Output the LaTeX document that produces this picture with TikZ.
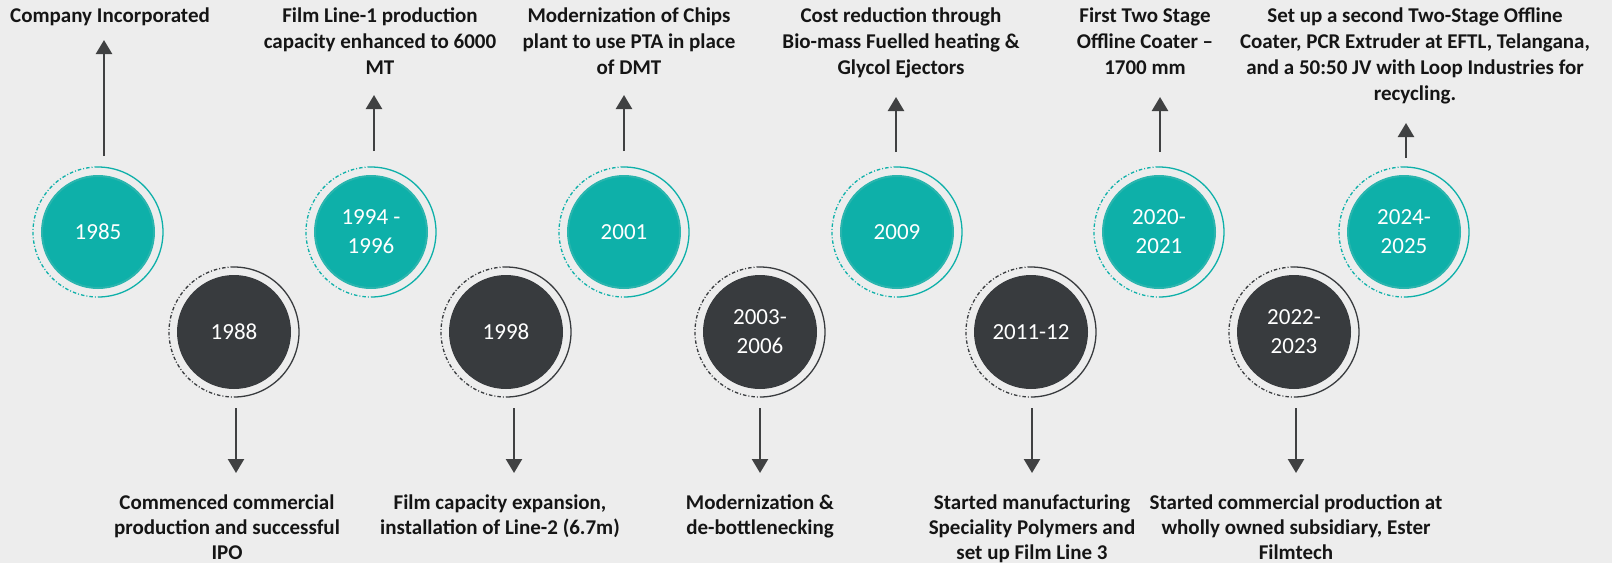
\documentclass[tikz,border=0pt]{standalone}
\usepackage{fontspec}
\setmainfont{Carlito}
\usetikzlibrary{arrows.meta}

\definecolor{bg}{HTML}{EDEDED}
\definecolor{tealc}{HTML}{0EB0A9}
\definecolor{tealedge}{HTML}{2AB5AE}
\definecolor{darkc}{HTML}{383B3E}
\definecolor{arrowc}{HTML}{404142}
\definecolor{txt}{HTML}{151515}

\tikzset{
  yearT/.style={circle, fill=tealc, draw=tealedge, line width=2pt, minimum size=112pt,
    inner sep=0pt, text=white, align=center, font=\fontsize{23}{29}\selectfont},
  yearD/.style={yearT, fill=darkc, draw=darkc},
  note/.style={align=center, inner sep=0pt, text=txt, anchor=north,
    font=\bfseries\fontsize{21}{26}\selectfont},
  notelow/.style={note, font=\bfseries\fontsize{21}{25}\selectfont},
  evarrow/.style={draw=arrowc, line width=2.4pt, -{Triangle[width=16pt,length=14pt]}},
  ringsolid/.style={line width=1.3pt},
  ringdash/.style={line width=1.3pt, dash pattern=on 3.5pt off 2pt on 1pt off 2pt},
}

% ring around a year disc: solid on the right half, dash-dotted on the left
\newcommand{\yearring}[2]{%
  \draw[ringsolid, #2] (#1.center) ++(90:65pt) arc[start angle=90, end angle=-90, radius=65pt];
  \draw[ringdash, #2] (#1.center) ++(90:65pt) arc[start angle=90, end angle=270, radius=65pt];
}

\begin{document}
\begin{tikzpicture}[x=1pt, y=-1pt]
  \useasboundingbox (0,0) rectangle (1612,563);
  \clip (0,0) rectangle (1612,563);
  \fill[bg] (0,0) rectangle (1612,563);

  % upper row of year discs
  \node[yearT] (y1985) at (98,232)   {1985};
  \node[yearT] (y1994) at (371,232)  {1994 -\\1996};
  \node[yearT] (y2001) at (624,232)  {2001};
  \node[yearT] (y2009) at (897,232)  {2009};
  \node[yearT] (y2020) at (1159,232) {2020-\\2021};
  \node[yearT] (y2024) at (1404,232) {2024-\\2025};

  % lower row of year discs
  \node[yearD] (y1988) at (234,332)  {1988};
  \node[yearD] (y1998) at (506,332)  {1998};
  \node[yearD] (y2003) at (760,332)  {2003-\\2006};
  \node[yearD] (y2011) at (1031,332) {2011-12};
  \node[yearD] (y2022) at (1294,332) {2022-\\2023};

  \foreach \n in {y1985,y1994,y2001,y2009,y2020,y2024} {\yearring{\n}{tealc}}
  \foreach \n in {y1988,y1998,y2003,y2011,y2022} {\yearring{\n}{darkc}}

  % event texts above
  \node[note] (t1985) at (110,7.5)  {Company Incorporated};
  \node[note] (t1994) at (380,7.5)  {Film Line-1 production\\capacity enhanced to 6000\\MT};
  \node[note] (t2001) at (629,7.5)  {Modernization of Chips\\plant to use PTA in place\\of DMT};
  \node[note] (t2009) at (901,7.5)  {Cost reduction through\\Bio-mass Fuelled heating \&\\Glycol Ejectors};
  \node[note] (t2020) at (1145,7.5) {First Two Stage\\Offline Coater --\\1700 mm};
  \node[note] (t2024) at (1415,7.5) {Set up a second Two-Stage Offline\\Coater, PCR Extruder at EFTL, Telangana,\\and a 50:50 JV with Loop Industries for\\recycling.};

  % event texts below
  \node[notelow] (t1988) at (227,494.5)  {Commenced commercial\\production and successful\\IPO};
  \node[notelow] (t1998) at (500,494.5)  {Film capacity expansion,\\installation of Line-2 (6.7m)};
  \node[notelow] (t2003) at (760,494.5)  {Modernization \&\\de-bottlenecking};
  \node[notelow] (t2011) at (1032,494.5) {Started manufacturing\\Speciality Polymers and\\set up Film Line 3};
  \node[notelow] (t2022) at (1296,494.5) {Started commercial production at\\wholly owned subsidiary, Ester\\Filmtech};

  % arrow end points
  \coordinate (a1985s) at (104,156);  \coordinate (a1985e) at (104,40);
  \coordinate (a1994s) at (374,151);  \coordinate (a1994e) at (374,95);
  \coordinate (a2001s) at (624,151);  \coordinate (a2001e) at (624,95);
  \coordinate (a2009s) at (896,152);  \coordinate (a2009e) at (896,97);
  \coordinate (a2020s) at (1160,152); \coordinate (a2020e) at (1160,97);
  \coordinate (a2024s) at (1406,158); \coordinate (a2024e) at (1406,123);
  \coordinate (a1988s) at (236,408);  \coordinate (a1988e) at (236,473);
  \coordinate (a1998s) at (514,408);  \coordinate (a1998e) at (514,473);
  \coordinate (a2003s) at (760,408);  \coordinate (a2003e) at (760,473);
  \coordinate (a2011s) at (1032,408); \coordinate (a2011e) at (1032,473);
  \coordinate (a2022s) at (1296,408); \coordinate (a2022e) at (1296,473);

  \foreach \n in {1985,1994,2001,2009,2020,2024,1988,1998,2003,2011,2022}
    {\draw[evarrow] (a\n s) -- (a\n e);}
\end{tikzpicture}
\end{document}
